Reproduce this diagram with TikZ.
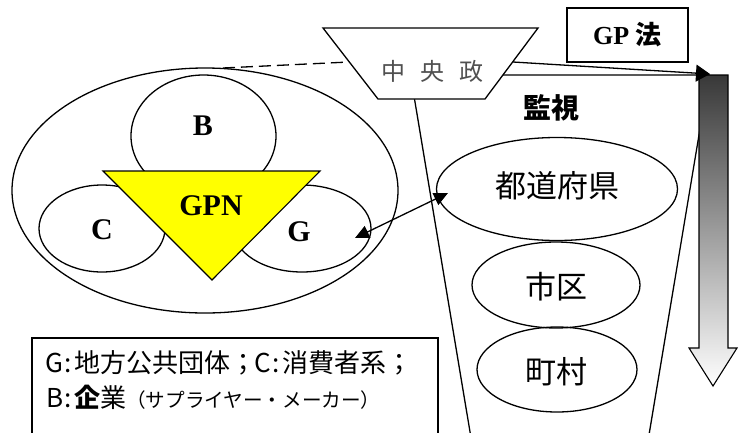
\documentclass[tikz,border=0pt]{standalone}
\usepackage{fontspec}
\setmainfont{Liberation Serif}
\newfontfamily\cjk{Noto Sans CJK JP}
\usetikzlibrary{shapes.geometric,arrows.meta}
\definecolor{gpnyellow}{HTML}{FFFF00}
\definecolor{govgrey}{HTML}{505050}
\newcommand\halfw[1]{\makebox[13pt][c]{#1}}
\tikzset{
  ln/.style={draw=black, line width=1.3pt},
  oval/.style={ellipse, ln, inner sep=0pt},
  latinlbl/.style={font=\fontsize{30}{34}\selectfont\bfseries, inner sep=0pt},
  cjklbl/.style={font=\cjk\fontsize{31}{36}\selectfont, inner sep=0pt},
  legendtxt/.style={font=\cjk\fontsize{26}{30}\selectfont, anchor=west, inner sep=0pt}
}
\begin{document}
\begin{tikzpicture}[x=1pt,y=-1pt]
\useasboundingbox (0,0) rectangle (744,432);
\clip (0,0) rectangle (744,432);
\fill[white] (0,0) rectangle (744,432);

% funnel
\coordinate (fTL) at (410.5,75);
\coordinate (fTR) at (709,75);
\coordinate (fBL) at (474.7,460);
\coordinate (fBR) at (644.8,460);
\draw[ln] (fBL) -- (fTL) -- (fTR) -- (fBR);

% dashed connector
\coordinate (dashL) at (223,68);
\coordinate (dashR) at (349,62);
\draw[ln, dashed, dash pattern=on 12pt off 6pt] (dashL) -- (dashR);

% central government trapezoid
\coordinate (gTL) at (323,28);
\coordinate (gTR) at (538,28);
\coordinate (gBR) at (485,99);
\coordinate (gBL) at (378,99);
\filldraw[ln, fill=white] (gTL) -- (gTR) -- (gBR) -- (gBL) -- cycle;
\node[font=\cjk\fontsize{24}{28}\selectfont, text=govgrey, inner sep=0pt] (gov) at (432,71) {中\hspace{15pt}央\hspace{15pt}政};
\coordinate (govR) at (513,62);

% GP law box
\node[ln, minimum width=121pt, minimum height=54pt, inner sep=0pt,
      font=\fontsize{26}{30}\selectfont\bfseries] (law) at (627.5,35) {GP {\cjk 法}};

% monitor label
\node[font=\cjk\fontsize{28}{32}\selectfont\bfseries, inner sep=0pt] (mon) at (551,108) {監視};

% gradient arrow
\shade[draw=black, line width=1.1pt, top color=black!78, bottom color=white]
  (699,75) -- (728,75) -- (728,348) -- (737,348) -- (713,386) -- (689,348) -- (699,348) -- cycle;
\coordinate (arrTip) at (710,74);
\draw[ln, -{Triangle[length=14pt,width=17pt]}] (govR) -- (arrTip);

% local government ellipses
\node[oval, minimum width=241pt, minimum height=103pt] (pref) at (557,189) {};
\node[cjklbl] at (557,186) {都道府県};
\node[oval, minimum width=168pt, minimum height=86pt] (city) at (556,285) {};
\node[cjklbl] at (556,287) {市区};
\node[oval, minimum width=160pt, minimum height=85pt] (town) at (557,369.5) {};
\node[cjklbl] at (556,372) {町村};

% left cluster
\node[oval, minimum width=386pt, minimum height=245pt] (big) at (205,190.5) {};
\node[oval, minimum width=145pt, minimum height=122pt] (Bc) at (203.5,136) {};
\node[oval, minimum width=126pt, minimum height=87pt] (Cc) at (102,228.5) {};
\node[oval, minimum width=138pt, minimum height=87pt] (Gc) at (302,228.5) {};
\coordinate (tL) at (103,171);
\coordinate (tR) at (320,171);
\coordinate (tB) at (212,280);
\filldraw[draw=black, line width=1.1pt, fill=gpnyellow] (tL) -- (tR) -- (tB) -- cycle;
\node[latinlbl] (Bl) at (203,126) {B};
\node[latinlbl] (Cl) at (102,230) {C};
\node[latinlbl] (Gl) at (299,232) {G};
\node[latinlbl] (gpn) at (211,206) {GPN};

% double arrow
\coordinate (aG) at (355,238);
\coordinate (aP) at (448,193);
\draw[ln, {Triangle[length=14pt,width=13pt]}-{Triangle[length=14pt,width=13pt]}] (aG) -- (aP);

% legend
\draw[ln] (32,338) rectangle (438,470);
\node[legendtxt] (leg1) at (48,363) {\halfw{G}\halfw{:}地方公共団体；\halfw{C}\halfw{:}消費者系；};
\node[legendtxt] (leg2) at (48,397) {\halfw{B}\halfw{:}{\bfseries 企}業{\fontsize{19.6}{22}\selectfont （サプライヤー・メーカー）}};
\end{tikzpicture}
\end{document}
